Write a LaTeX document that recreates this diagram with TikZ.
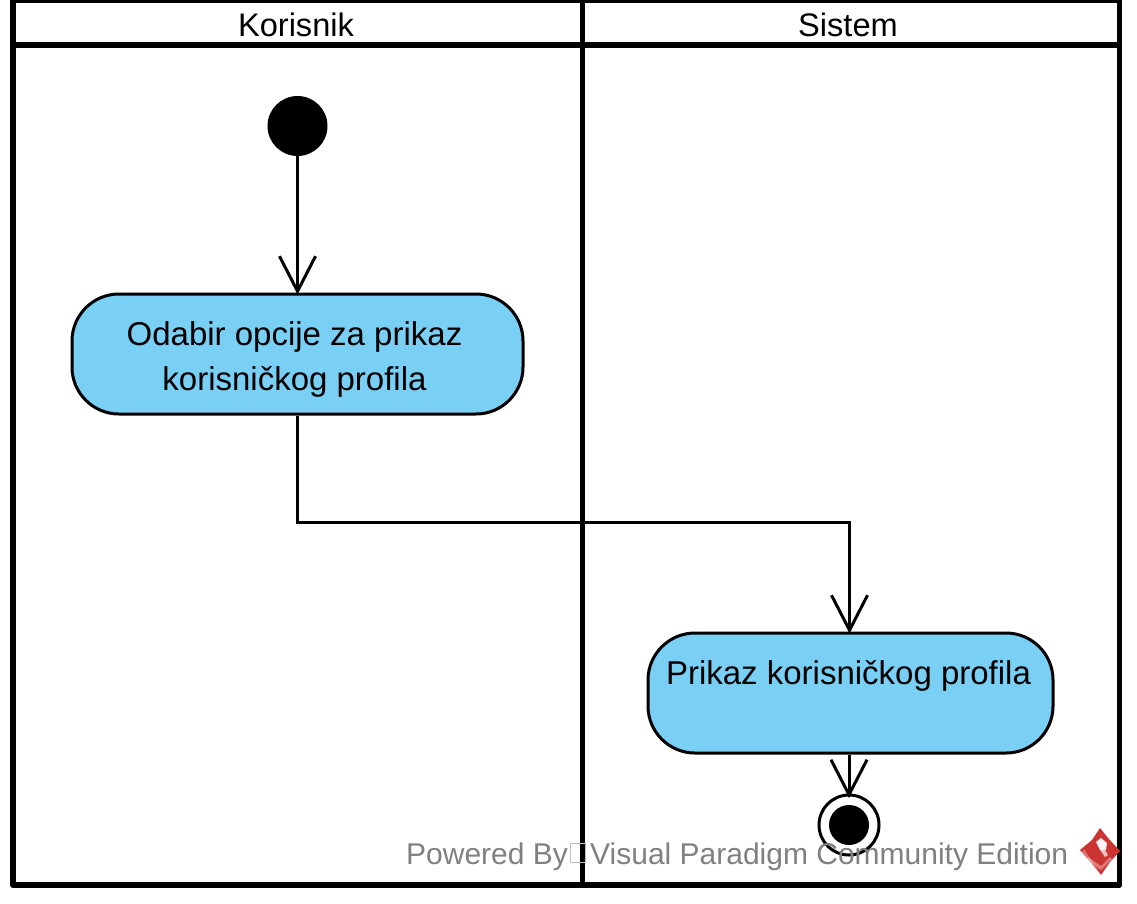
\documentclass[tikz,border=0pt]{standalone}
\usepackage{fontspec}
\setmainfont{Liberation Sans}
\usetikzlibrary{arrows.meta,calc}
\definecolor{actfill}{RGB}{122,207,245}
\definecolor{wmgray}{RGB}{128,128,128}
\definecolor{logored}{RGB}{204,51,51}
\tikzset{
  lane/.style={draw=black,line width=5.8pt,line join=round,fill=none},
  lanetitle/.style={font=\fontsize{32.6}{36}\selectfont,inner sep=0pt,anchor=base},
  action/.style={draw=black,line width=3pt,fill=actfill,rounded corners=47pt,inner sep=0pt},
  actext/.style={inner sep=0pt,align=center,font=\fontsize{33}{45}\selectfont,text=black},
  flow/.style={draw=black,line width=3pt,shorten >=-2pt,-{Straight Barb[length=35pt,width=36pt,line width=3pt]}},
  startdot/.style={circle,fill=black,minimum size=60pt,inner sep=0pt},
  endring/.style={circle,draw=black,line width=3pt,fill=white,minimum size=60pt,inner sep=0pt},
  enddot/.style={circle,fill=black,minimum size=40pt,inner sep=0pt},
  wm/.style={font=\fontsize{30}{35}\selectfont,text=wmgray,inner sep=0pt,anchor=base west},
}
\begin{document}
\begin{tikzpicture}[x=1pt,y=-1pt]
\useasboundingbox (0,0) rectangle (1137,903);
\fill[white] (0,0) rectangle (1137,903);
% swimlanes
\begin{scope}
\clip (0,0) rectangle (1137,903);
\draw[lane] (13,0.5) rectangle (582.5,885);
\draw[lane] (582.5,0.5) rectangle (1119.5,885);
\draw[lane] (13,45.3) -- (1119.5,45.3);
\end{scope}
\node[lanetitle] (korisnik) at (296,36) {Korisnik};
\node[lanetitle] (sistem) at (848,36) {Sistem};
% nodes
\node[startdot] (start) at (297.5,126) {};
\node[action,minimum width=451pt,minimum height=120pt] (odabir) at (297.5,354) {};
\node[actext] (odabirtxt) at (294.5,359.5) {Odabir opcije za prikaz\\korisničkog profila};
\node[action,minimum width=405pt,minimum height=120pt] (prikaz) at (850.5,693) {};
\node[actext] (prikaztxt) at (848.5,676) {Prikaz korisničkog profila};
\node[endring] (kraj) at (849,825) {};
\node[enddot] (krajdot) at (849,825) {};
\coordinate (bend1) at (297.5,522);
\coordinate (bend2) at (849.5,522);
\coordinate (krajtip) at (849,796);
% connectors
\draw[flow] (start.south) -- (odabir.north);
\draw[flow] (odabir.south) -- (bend1) -- (bend2) -- (bend2 |- prikaz.north);
\draw[flow] (prikaz.south -| kraj) -- (krajtip);
% watermark
\node[wm] (pw) at (406,864) {Powered By};
\node[draw=black!25,line width=0.8pt,minimum width=15pt,minimum height=19pt,inner sep=0pt] (box) at (577.5,853) {};
\node[wm] (vp) at (590,864) {Visual Paradigm Community Edition};
% logo
\fill[logored] (1080,850) -- (1092,840) -- (1100,828) -- (1108,838) -- (1120,851) -- (1110,862) -- (1101,875) -- (1092,864) -- cycle;
\fill[white,opacity=.3] (1082,852) -- (1099,873) -- (1101,875) -- (1094,864) -- (1084,849) -- cycle;
\fill[white,opacity=.35] (1088,857) -- (1101,866) -- (1110,857) -- (1112,859) -- (1101,870) -- (1086,859) -- cycle;
\fill[white,opacity=.95] (1096,842) -- (1101,838) -- (1107,843) -- (1106,850) -- (1100,850) -- cycle;
\fill[white,opacity=.7] (1100,850) -- (1105,850) -- (1108,855) -- (1105,857) -- cycle;
\end{tikzpicture}
\end{document}
